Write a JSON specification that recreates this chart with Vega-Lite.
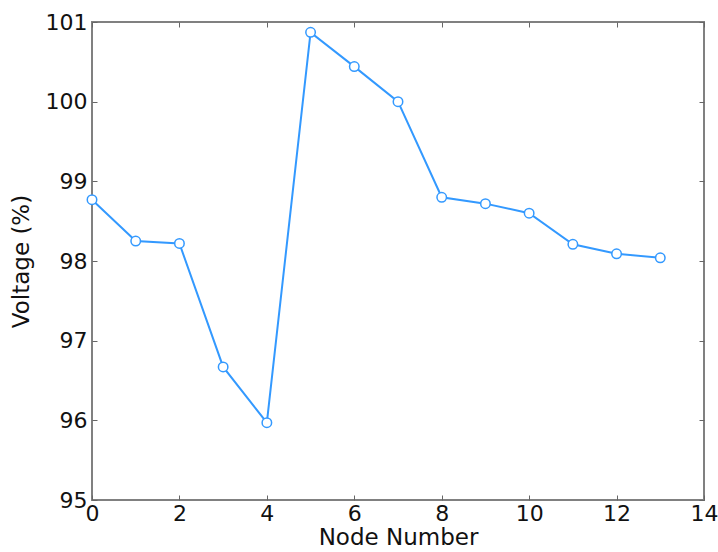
{
  "$schema": "https://vega.github.io/schema/vega-lite/v6.json",
  "width": 612,
  "height": 478,
  "autosize": "none",
  "padding": {"left": 92, "top": 22, "right": 14, "bottom": 52},
  "background": "white",
  "config": {
    "view": {"stroke": "#808080", "strokeWidth": 2},
    "font": "DejaVu Sans",
    "axis": {
      "labelFont": "DejaVu Sans",
      "titleFont": "DejaVu Sans",
      "labelFontSize": 22,
      "titleFontSize": 23,
      "titleFontWeight": "normal",
      "labelColor": "#111",
      "titleColor": "#111",
      "grid": false,
      "domain": false,
      "tickColor": "#666",
      "tickSize": -5,
      "tickWidth": 1
    }
  },
  "data": {
    "values": [
      {"node": 0, "voltage": 98.77},
      {"node": 1, "voltage": 98.25},
      {"node": 2, "voltage": 98.22},
      {"node": 3, "voltage": 96.67},
      {"node": 4, "voltage": 95.97},
      {"node": 5, "voltage": 100.87},
      {"node": 6, "voltage": 100.44},
      {"node": 7, "voltage": 100.0},
      {"node": 8, "voltage": 98.8},
      {"node": 9, "voltage": 98.72},
      {"node": 10, "voltage": 98.6},
      {"node": 11, "voltage": 98.21},
      {"node": 12, "voltage": 98.09},
      {"node": 13, "voltage": 98.04}
    ]
  },
  "layer": [
    {
      "mark": {"type": "line", "color": "#3399ff", "strokeWidth": 2,
               "point": {"shape": "circle", "filled": true, "fill": "white", "stroke": "#3399ff", "strokeWidth": 1.5, "size": 90, "opacity": 1}},
      "encoding": {
        "x": {"field": "node", "type": "quantitative", "scale": {"domain": [0, 14], "nice": false, "zero": false},
              "axis": {"title": "Node Number", "values": [0, 2, 4, 6, 8, 10, 12, 14], "labelPadding": 8, "titlePadding": 2, "labelFlush": false}},
        "y": {"field": "voltage", "type": "quantitative", "scale": {"domain": [95, 101], "nice": false, "zero": false},
              "axis": {"title": "Voltage (%)", "values": [95, 96, 97, 98, 99, 100, 101], "labelPadding": 10, "titlePadding": 12, "labelFlush": false}}
      }
    },
    {
      "mark": {"type": "point", "opacity": 0},
      "encoding": {
        "x": {"field": "node", "type": "quantitative", "axis": {"orient": "top", "labels": false, "title": null, "values": [0, 2, 4, 6, 8, 10, 12, 14]}},
        "y": {"field": "voltage", "type": "quantitative", "axis": {"orient": "right", "labels": false, "title": null, "values": [95, 96, 97, 98, 99, 100, 101]}}
      }
    }
  ],
  "resolve": {"axis": {"x": "independent", "y": "independent"}}
}
